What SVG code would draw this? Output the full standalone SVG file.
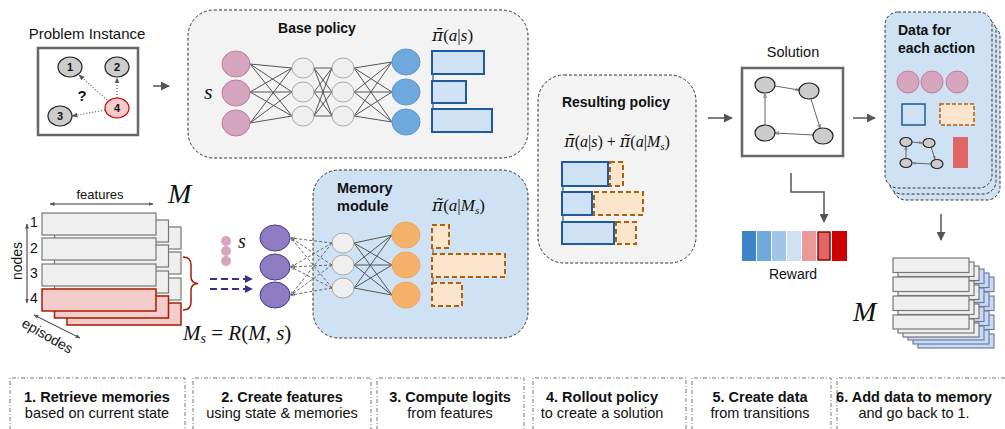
<svg xmlns="http://www.w3.org/2000/svg" width="1005" height="429" viewBox="0 0 1005 429">
<defs>
<style>
text{font-family:"Liberation Sans",Arial,sans-serif;fill:#111}
.b{font-weight:bold}
.math{font-family:"Liberation Serif","DejaVu Serif",serif;font-style:italic}
.pi{font-family:"DejaVu Serif",serif;font-style:italic}
.mr{font-style:normal}
.dbox{stroke:#333;stroke-width:1;stroke-dasharray:3 2}
.step{fill:none;stroke:#777;stroke-width:1;stroke-dasharray:4 2 1 2}
.pink{fill:#d5a6bd;stroke:#c27ba0;stroke-width:1}
.hid{fill:#efefef;stroke:#aaa;stroke-width:1}
.blue{fill:#6fa8dc;stroke:#5b95cf;stroke-width:1}
.orng{fill:#f6b26b;stroke:#f0a855;stroke-width:1}
.purp{fill:#8e7cc3;stroke:#4a3a8f;stroke-width:1}
.bbar{fill:#cfe2f3;stroke:#1f5b9c;stroke-width:2}
.obar{fill:#fce5cd;stroke:#b45f06;stroke-width:2;stroke-dasharray:5 3}
.w{stroke:#555;stroke-width:1;fill:none}
.gn{fill:#ccc;stroke:#222;stroke-width:1.2}
.row{fill:#efefef;stroke:#777;stroke-width:1.2}
.rrow{fill:#f4cccc;stroke:#a61c00;stroke-width:1.5}
.brow{fill:#c9daf8;stroke:#6f7f99;stroke-width:1.2}
.arr{stroke:#555;stroke-width:1.5;fill:none;marker-end:url(#ah)}
</style>
<marker id="ah" viewBox="0 0 10 10" refX="9" refY="5" markerWidth="6" markerHeight="6" orient="auto"><path d="M0,0 L10,5 L0,10 z" fill="#555"/></marker>
<marker id="ahs" viewBox="0 0 10 10" refX="9" refY="5" markerWidth="5" markerHeight="5" orient="auto-start-reverse"><path d="M0,1 L10,5 L0,9 z" fill="#555"/></marker>
<marker id="ahd" viewBox="0 0 10 10" refX="9" refY="5" markerWidth="4" markerHeight="4" orient="auto"><path d="M0,1 L10,5 L0,9 z" fill="none" stroke="#666" stroke-width="1.5"/></marker>
<marker id="ahp" viewBox="0 0 10 10" refX="9" refY="5" markerWidth="4" markerHeight="4" orient="auto"><path d="M0,0 L10,5 L0,10 z" fill="#3c2d8e"/></marker>
</defs>

<!-- Problem instance -->
<g id="problem">
<text x="87" y="39" font-size="15" text-anchor="middle">Problem Instance</text>
<rect x="38" y="48" width="100" height="87" fill="#fff" stroke="#666" stroke-width="2.5"/>
<g stroke="#555" stroke-width="1.2" stroke-dasharray="1 2" fill="none" marker-end="url(#ahs)">
<line x1="107" y1="100" x2="79" y2="75"/>
<line x1="117" y1="98" x2="117" y2="78"/>
<line x1="105" y1="110" x2="72" y2="116"/>
</g>
<ellipse cx="70" cy="67" rx="12" ry="10" class="gn"/>
<ellipse cx="117" cy="67" rx="12" ry="10" class="gn"/>
<ellipse cx="60" cy="116" rx="12" ry="10" class="gn"/>
<ellipse cx="117" cy="108" rx="12" ry="10" fill="#f4cccc" stroke="#cc0000" stroke-width="1.2"/>
<g font-size="11" text-anchor="middle">
<text x="70" y="71" class="b">1</text>
<text x="117" y="71" class="b">2</text>
<text x="60" y="120" class="b">3</text>
<text x="117" y="112" class="b">4</text>
</g>
<text x="82" y="101" font-size="15" class="b" text-anchor="middle">?</text>
</g>

<!-- Base policy -->
<g id="base-policy">
<rect x="188" y="10" width="340" height="148" rx="26" fill="#f3f3f3" class="dbox"/>
<text x="317" y="33" font-size="14" class="b" text-anchor="middle">Base policy</text>
<text x="204" y="99" font-size="22" class="math">s</text>
<g class="w">
<path d="M250,64 L292,68 M250,64 L292,92 M250,64 L292,116 M250,92 L292,68 M250,92 L292,92 M250,92 L292,116 M250,123 L292,68 M250,123 L292,92 M250,123 L292,116"/>
<path d="M314,68 L332,68 M314,68 L332,92 M314,68 L332,116 M314,92 L332,68 M314,92 L332,92 M314,92 L332,116 M314,116 L332,68 M314,116 L332,92 M314,116 L332,116"/>
<path d="M354,68 L392,62 M354,68 L392,92 M354,68 L392,122 M354,92 L392,62 M354,92 L392,92 M354,92 L392,122 M354,116 L392,62 M354,116 L392,92 M354,116 L392,122"/>
</g>
<ellipse cx="236" cy="64" rx="14" ry="13" class="pink"/>
<ellipse cx="236" cy="93" rx="14" ry="13" class="pink"/>
<ellipse cx="236" cy="123" rx="14" ry="13" class="pink"/>
<ellipse cx="303" cy="68" rx="11" ry="10" class="hid"/>
<ellipse cx="303" cy="92" rx="11" ry="10" class="hid"/>
<ellipse cx="303" cy="116" rx="11" ry="10" class="hid"/>
<ellipse cx="343" cy="68" rx="11" ry="10" class="hid"/>
<ellipse cx="343" cy="92" rx="11" ry="10" class="hid"/>
<ellipse cx="343" cy="116" rx="11" ry="10" class="hid"/>
<ellipse cx="406" cy="62" rx="14" ry="13" class="blue"/>
<ellipse cx="406" cy="92" rx="14" ry="13" class="blue"/>
<ellipse cx="406" cy="122" rx="14" ry="13" class="blue"/>
<text x="432" y="41" font-size="17" class="math"><tspan class="pi">π̄</tspan><tspan class="mr">(</tspan>a<tspan class="mr">|</tspan>s<tspan class="mr">)</tspan></text>
<line x1="433" y1="74" x2="433" y2="109" stroke="#1f5b9c" stroke-width="1.2"/>
<rect x="432" y="51" width="52" height="23" class="bbar"/>
<rect x="432" y="81" width="34" height="22" class="bbar"/>
<rect x="432" y="109" width="60" height="23" class="bbar"/>
</g>

<!-- Memory stack (left) -->
<g id="memory">
<g>
<rect x="67" y="227" width="114" height="22" class="row"/>
<rect x="67" y="252" width="114" height="22" class="row"/>
<rect x="67" y="278" width="114" height="22" class="row"/>
<rect x="67" y="303" width="114" height="22" class="rrow"/>
<rect x="54.5" y="220" width="114" height="22" class="row"/>
<rect x="54.5" y="245" width="114" height="22" class="row"/>
<rect x="54.5" y="271" width="114" height="22" class="row"/>
<rect x="54.5" y="296" width="114" height="22" class="rrow"/>
<rect x="42" y="213" width="114" height="22" class="row"/>
<rect x="42" y="238" width="114" height="22" class="row"/>
<rect x="42" y="264" width="114" height="22" class="row"/>
<rect x="42" y="289" width="114" height="22" class="rrow"/>
</g>
<text x="100" y="199" font-size="13" text-anchor="middle">features</text>
<line x1="50" y1="204" x2="153" y2="204" stroke="#333" stroke-width="1" marker-start="url(#ahs)" marker-end="url(#ahs)"/>
<text x="168" y="203" font-size="28" class="math">M</text>
<g font-size="14" text-anchor="middle">
<text x="34" y="227">1</text>
<text x="34" y="253">2</text>
<text x="34" y="278">3</text>
<text x="34" y="303">4</text>
</g>
<line x1="27" y1="224" x2="27" y2="303" stroke="#333" stroke-width="1" marker-start="url(#ahs)" marker-end="url(#ahs)"/>
<text transform="translate(22,261) rotate(-90)" font-size="14" text-anchor="middle">nodes</text>
<line x1="34" y1="315" x2="80" y2="338" stroke="#333" stroke-width="1" marker-start="url(#ahs)" marker-end="url(#ahs)"/>
<text transform="translate(45,340) rotate(30)" font-size="14" text-anchor="middle">episodes</text>
<path d="M183,257 Q191,257 191,265 L191,277 Q191,283 198,283.5 Q191,284 191,290 L191,302 Q191,310 183,310" fill="none" stroke="#a61c00" stroke-width="1.5"/>
<text x="183" y="340" font-size="21" class="math">M<tspan font-size="14" dy="3">s</tspan><tspan class="mr" dy="-3"> = </tspan>R<tspan class="mr">(</tspan>M<tspan class="mr">, </tspan>s<tspan class="mr">)</tspan></text>
</g>

<!-- state input -->
<g id="state-input">
<circle cx="226" cy="241" r="5" fill="#d5a6bd"/>
<circle cx="226" cy="251" r="5" fill="#d5a6bd"/>
<circle cx="226" cy="261" r="5" fill="#d5a6bd"/>
<text x="238" y="248" font-size="20" class="math">s</text>
</g>

<!-- Memory module -->
<g id="memory-module">
<rect x="313" y="170" width="215" height="168" rx="26" fill="#cfe2f3" class="dbox"/>
<text x="337" y="193" font-size="14.5" class="b">Memory</text>
<text x="337" y="211" font-size="14.5" class="b">module</text>
<text x="432" y="211" font-size="17" class="math"><tspan class="pi">π̃</tspan><tspan class="mr">(</tspan>a<tspan class="mr">|</tspan>M<tspan font-size="11" dy="3">s</tspan><tspan class="mr" dy="-3">)</tspan></text>
<g class="w">
<path d="M354,243 L392,235 M354,243 L392,265 M354,243 L392,295 M354,265 L392,235 M354,265 L392,265 M354,265 L392,295 M354,288 L392,235 M354,288 L392,265 M354,288 L392,295"/>
</g>
<ellipse cx="343" cy="243" rx="11" ry="10" class="hid"/>
<ellipse cx="343" cy="265" rx="11" ry="10" class="hid"/>
<ellipse cx="343" cy="288" rx="11" ry="10" class="hid"/>
<ellipse cx="406" cy="235" rx="14" ry="13" class="orng"/>
<ellipse cx="406" cy="265" rx="14" ry="13" class="orng"/>
<ellipse cx="406" cy="295" rx="14" ry="13" class="orng"/>
<line x1="433" y1="248" x2="433" y2="283" stroke="#b45f06" stroke-width="1.2"/>
<rect x="432" y="225" width="17" height="23" class="obar"/>
<rect x="432" y="254" width="73" height="23" class="obar"/>
<rect x="432" y="283" width="30" height="23" class="obar"/>
</g>

<!-- Memory input nodes -->
<g id="memory-input">
<ellipse cx="275" cy="238" rx="15" ry="13" class="purp"/>
<ellipse cx="275" cy="267" rx="15" ry="13" class="purp"/>
<ellipse cx="275" cy="295" rx="15" ry="13" class="purp"/>
</g>

<!-- Resulting policy -->
<g id="resulting-policy">
<rect x="538" y="75" width="158" height="188" rx="26" fill="#f3f3f3" class="dbox"/>
<text x="616" y="107" font-size="14" class="b" text-anchor="middle">Resulting policy</text>
<text x="617" y="147" font-size="16" class="math" text-anchor="middle"><tspan class="pi">π̄</tspan><tspan class="mr">(</tspan>a<tspan class="mr">|</tspan>s<tspan class="mr">) + </tspan><tspan class="pi">π̃</tspan><tspan class="mr">(</tspan>a<tspan class="mr">|</tspan>M<tspan font-size="11" dy="3">s</tspan><tspan class="mr" dy="-3">)</tspan></text>
<line x1="563" y1="186" x2="563" y2="222" stroke="#1f5b9c" stroke-width="1.2"/>
<rect x="562" y="162" width="46" height="24" class="bbar"/>
<rect x="610" y="162" width="13" height="24" class="obar"/>
<rect x="562" y="192" width="30" height="23" class="bbar"/>
<rect x="594" y="192" width="49" height="23" class="obar"/>
<rect x="562" y="222" width="52" height="22" class="bbar"/>
<rect x="616" y="222" width="20" height="22" class="obar"/>
</g>

<!-- Solution -->
<g id="solution">
<text x="793" y="57" font-size="14.5" text-anchor="middle">Solution</text>
<rect x="742" y="68" width="101" height="88" fill="#fff" stroke="#666" stroke-width="2.5"/>
<g stroke="#666" stroke-width="1" fill="none" marker-end="url(#ahd)">
<line x1="775" y1="86" x2="799" y2="90"/>
<line x1="811" y1="99" x2="820" y2="128"/>
<line x1="813" y1="135" x2="775" y2="133"/>
<line x1="765" y1="125" x2="765" y2="94"/>
</g>
<ellipse cx="765" cy="85" rx="10" ry="8" class="gn"/>
<ellipse cx="809" cy="91" rx="10" ry="8" class="gn"/>
<ellipse cx="823" cy="136" rx="10" ry="8" class="gn"/>
<ellipse cx="765" cy="133" rx="10" ry="8" class="gn"/>
</g>

<!-- Reward -->
<g id="reward">
<rect x="742" y="231" width="14" height="30" fill="#3d85c6"/>
<rect x="757" y="231" width="14" height="30" fill="#6fa8dc"/>
<rect x="772" y="231" width="14" height="30" fill="#9fc5e8"/>
<rect x="787" y="231" width="14" height="30" fill="#cfe2f3"/>
<rect x="802" y="231" width="14" height="30" fill="#ea9999"/>
<rect x="818" y="232" width="12" height="28" fill="#e06666" stroke="#990000" stroke-width="1.5"/>
<rect x="832" y="231" width="15" height="30" fill="#cc0000"/>
<text x="793" y="279" font-size="14" text-anchor="middle">Reward</text>
</g>

<!-- Data for each action -->
<g id="data">
<rect x="893" y="24" width="107" height="176" rx="13" fill="#cfe2f3" class="dbox"/>
<rect x="889" y="18" width="107" height="176" rx="13" fill="#cfe2f3" class="dbox"/>
<rect x="885" y="12" width="107" height="176" rx="13" fill="#cfe2f3" class="dbox"/>
<text x="898" y="35" font-size="14" class="b">Data for</text>
<text x="898" y="53" font-size="14" class="b">each action</text>
<circle cx="908" cy="82" r="11" class="pink"/>
<circle cx="932" cy="82" r="11" class="pink"/>
<circle cx="957" cy="82" r="11" class="pink"/>
<rect x="902" y="104" width="23" height="21" fill="#cfe2f3" stroke="#1f5b9c" stroke-width="1.5"/>
<rect x="940" y="104" width="34" height="21" fill="#fce5cd" stroke="#b45f06" stroke-width="1.5" stroke-dasharray="4 2"/>
<g stroke="#444" stroke-width="0.8" fill="none" marker-end="url(#ahd)">
<line x1="912" y1="142" x2="922" y2="143"/>
<line x1="931" y1="147" x2="935" y2="159"/>
<line x1="931" y1="164" x2="913" y2="163"/>
<line x1="906" y1="159" x2="906" y2="147"/>
</g>
<ellipse cx="906" cy="142" rx="6" ry="4.5" class="gn"/>
<ellipse cx="929" cy="143" rx="6" ry="4.5" class="gn"/>
<ellipse cx="937" cy="164" rx="6" ry="4.5" class="gn"/>
<ellipse cx="906" cy="163" rx="6" ry="4.5" class="gn"/>
<rect x="953" y="137" width="15" height="31" fill="#e06666"/>
</g>

<!-- Memory stack (right) -->
<g id="memory-updated">
<g>
<rect x="918" y="277" width="76" height="14.5" class="brow"/><rect x="918" y="296" width="76" height="14.5" class="brow"/><rect x="918" y="315" width="76" height="14.5" class="brow"/><rect x="918" y="334" width="76" height="14" class="brow"/>
<rect x="913" y="273" width="76" height="14.5" class="brow"/><rect x="913" y="292" width="76" height="14.5" class="brow"/><rect x="913" y="311" width="76" height="14.5" class="brow"/><rect x="913" y="330" width="76" height="14" class="brow"/>
<rect x="908" y="269" width="76" height="14.5" class="brow"/><rect x="908" y="288" width="76" height="14.5" class="brow"/><rect x="908" y="307" width="76" height="14.5" class="brow"/><rect x="908" y="326" width="76" height="14" class="brow"/>
<rect x="903" y="266" width="76" height="14.5" class="row"/><rect x="903" y="285" width="76" height="14.5" class="row"/><rect x="903" y="304" width="76" height="14.5" class="row"/><rect x="903" y="323" width="76" height="14" class="row"/>
<rect x="898" y="262" width="76" height="14.5" class="row"/><rect x="898" y="281" width="76" height="14.5" class="row"/><rect x="898" y="300" width="76" height="14.5" class="row"/><rect x="898" y="319" width="76" height="14" class="row"/>
<rect x="893" y="258" width="76" height="14.5" class="row"/><rect x="893" y="277" width="76" height="14.5" class="row"/><rect x="893" y="296" width="76" height="14.5" class="row"/><rect x="893" y="315" width="76" height="14" class="row"/>
</g>
<text x="853" y="321" font-size="28" class="math">M</text>
</g>

<!-- Connectors -->
<g id="connectors">
<line x1="153" y1="86" x2="169" y2="86" class="arr"/>
<line x1="708" y1="118" x2="732" y2="118" class="arr"/>
<line x1="853" y1="118" x2="875" y2="118" class="arr"/>
<polyline points="791,173 791,192 824,192 824,222" class="arr"/>
<line x1="941" y1="214" x2="941" y2="240" class="arr"/>
<g stroke="#666" stroke-width="1" stroke-dasharray="3 2" fill="none" marker-end="url(#ahd)">
<line x1="332" y1="243" x2="291" y2="238"/>
<line x1="332" y1="243" x2="291" y2="267"/>
<line x1="332" y1="243" x2="291" y2="295"/>
<line x1="332" y1="265" x2="291" y2="238"/>
<line x1="332" y1="265" x2="291" y2="267"/>
<line x1="332" y1="265" x2="291" y2="295"/>
<line x1="332" y1="288" x2="291" y2="238"/>
<line x1="332" y1="288" x2="291" y2="267"/>
<line x1="332" y1="288" x2="291" y2="295"/>
</g>
<g stroke="#3c2d8e" stroke-width="2" stroke-dasharray="7 4" fill="none" marker-end="url(#ahp)">
<line x1="210" y1="279" x2="252" y2="279"/>
<line x1="210" y1="289" x2="252" y2="289"/>
</g>
</g>

<!-- Steps -->
<g id="step1">
<path d="M10,430 L10,378 L185,378 L185,430" class="step"/>
<text x="97" y="402" font-size="14.5" class="b" text-anchor="middle">1. Retrieve memories</text>
<text x="97" y="418" font-size="14.5" text-anchor="middle">based on current state</text>
</g>
<g id="step2">
<path d="M193,430 L193,378 L371,378 L371,430" class="step"/>
<text x="282" y="402" font-size="14.5" class="b" text-anchor="middle">2. Create features</text>
<text x="282" y="418" font-size="14.5" text-anchor="middle">using state &amp; memories</text>
</g>
<g id="step3">
<path d="M377,430 L377,378 L524,378 L524,430" class="step"/>
<text x="450" y="402" font-size="14.5" class="b" text-anchor="middle">3. Compute logits</text>
<text x="450" y="418" font-size="14.5" text-anchor="middle">from features</text>
</g>
<g id="step4">
<path d="M533,430 L533,378 L686,378 L686,430" class="step"/>
<text x="602" y="402" font-size="14.5" class="b" text-anchor="middle">4. Rollout policy</text>
<text x="602" y="418" font-size="14.5" text-anchor="middle">to create a solution</text>
</g>
<g id="step5">
<path d="M692,430 L692,378 L831,378 L831,430" class="step"/>
<text x="760" y="402" font-size="14.5" class="b" text-anchor="middle">5. Create data</text>
<text x="760" y="418" font-size="14.5" text-anchor="middle">from transitions</text>
</g>
<g id="step6">
<path d="M837,430 L837,378 L1010,378" class="step"/>
<text x="914" y="402" font-size="14.5" class="b" text-anchor="middle">6. Add data to memory</text>
<text x="914" y="418" font-size="14.5" text-anchor="middle">and go back to 1.</text>
</g>
</svg>
